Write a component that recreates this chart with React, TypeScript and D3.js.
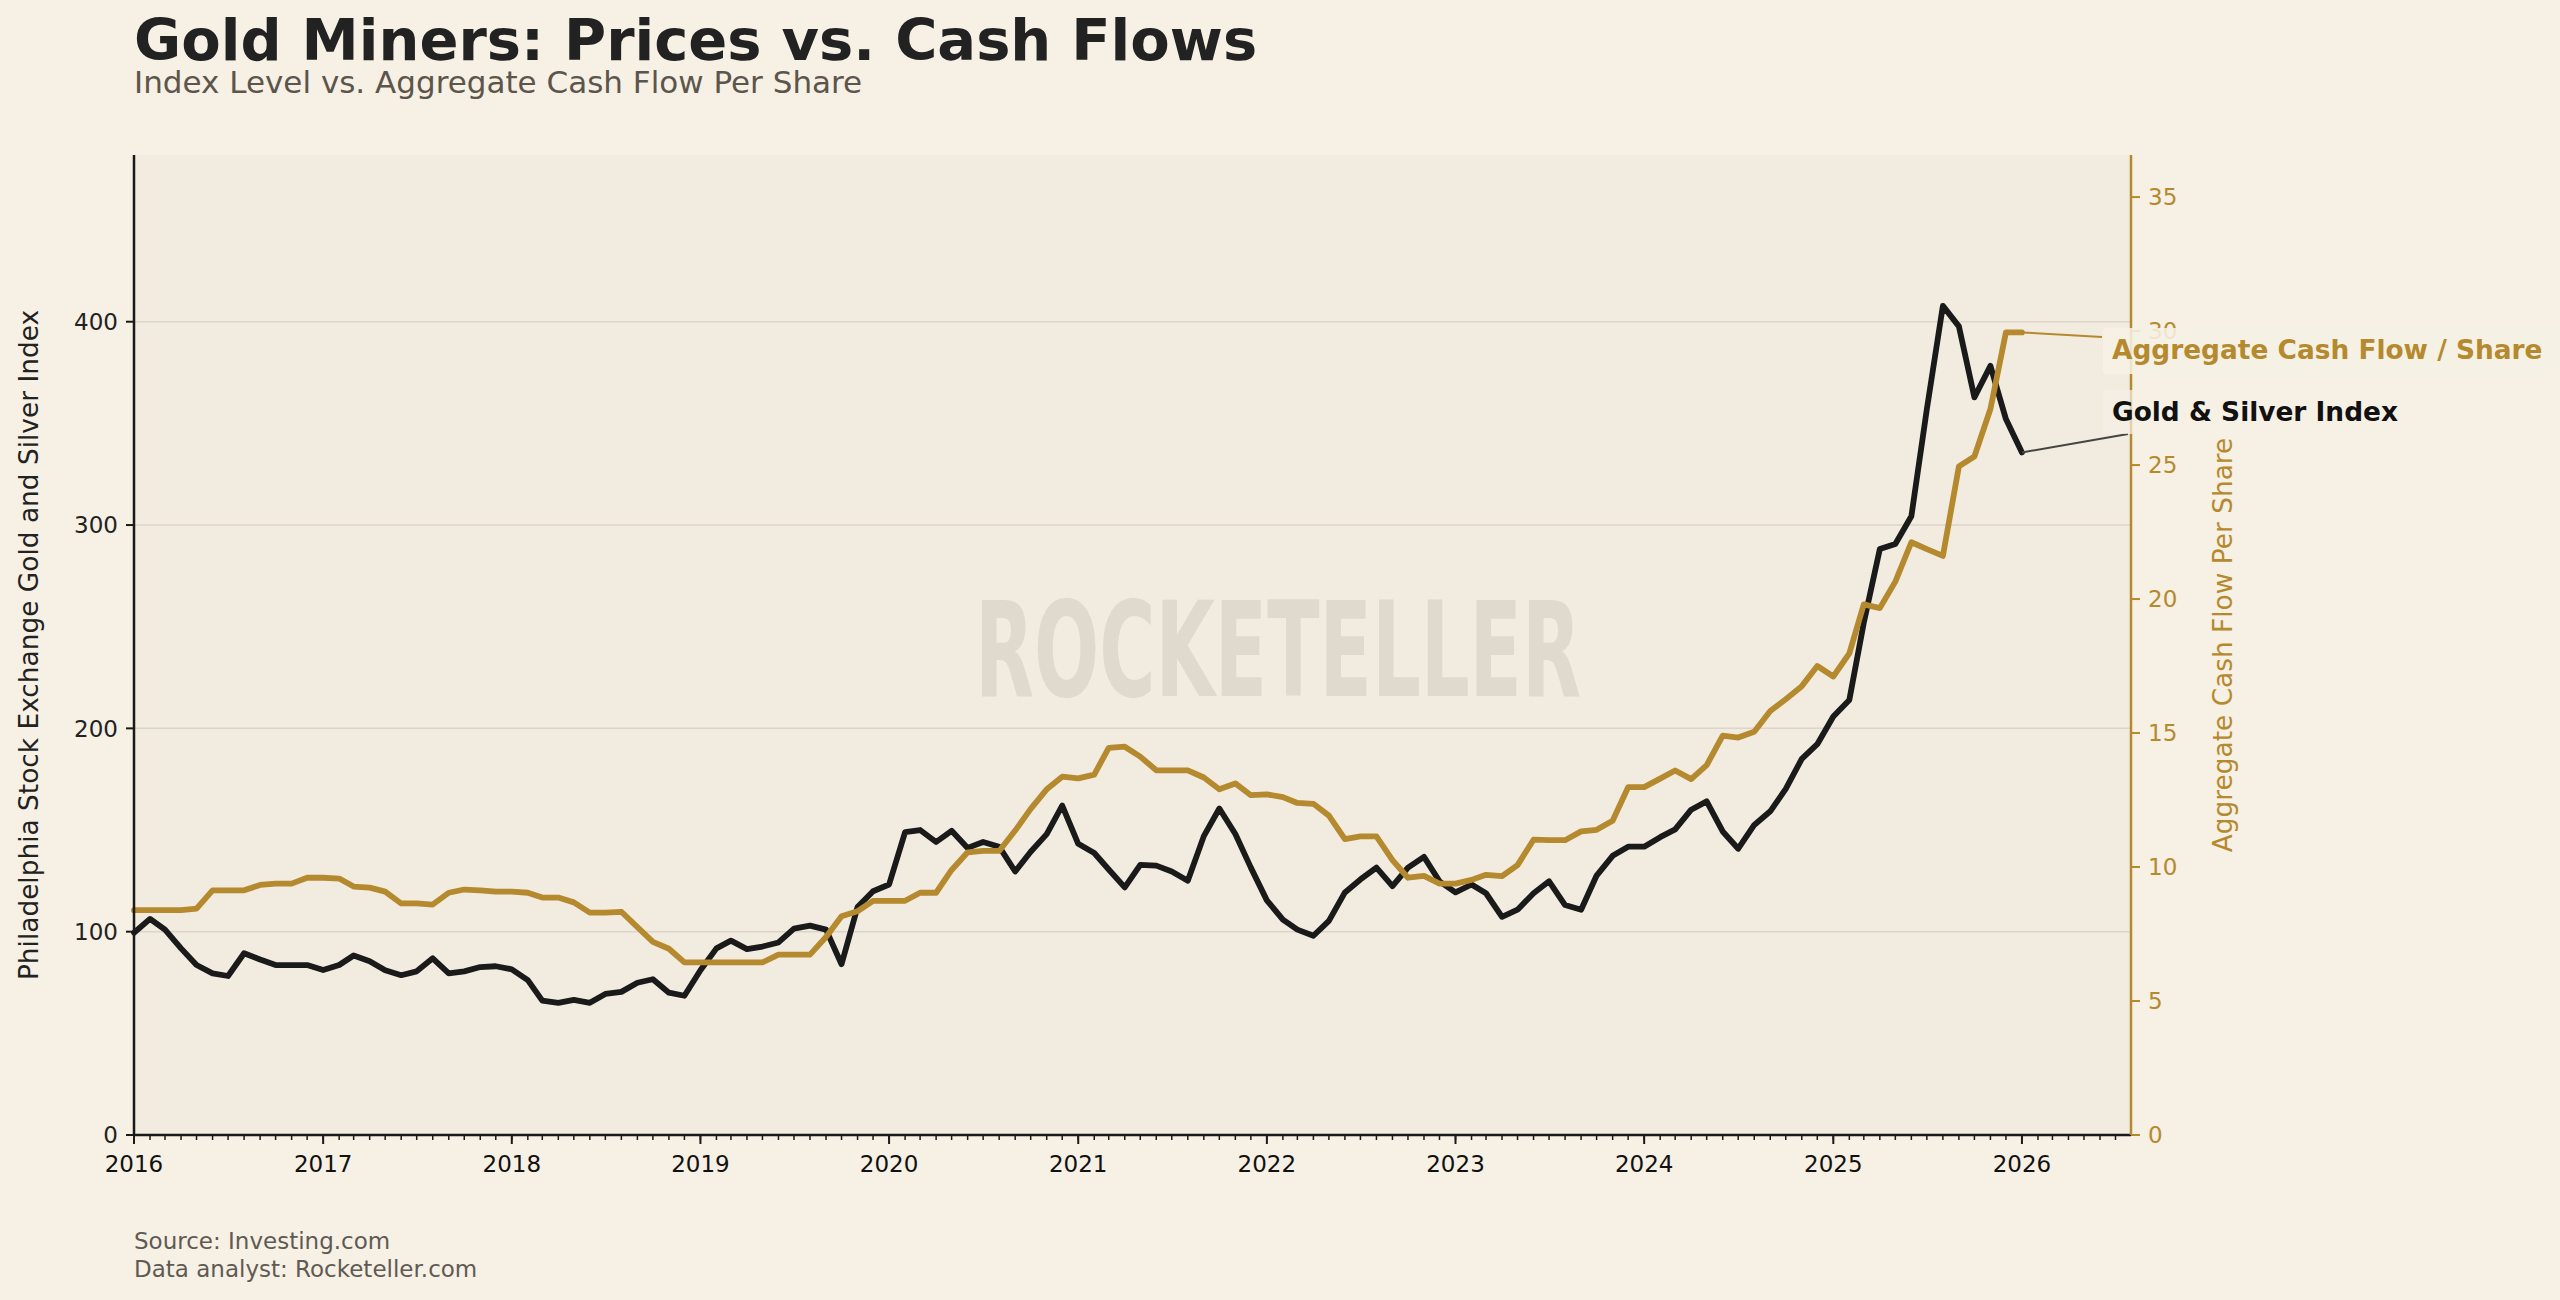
import React from 'react';
import * as d3 from 'd3';

// ---- Data (monthly, Jan 2016 .. Jan 2026) ----
const startYear = 2016;
const indexValues: number[] = [
  99.5, 106.3, 101, 91.8, 83.6, 79.5, 78.2, 89.4, 86.3, 83.6, 83.6, 83.6,
  81.1, 83.6, 88.3, 85.5, 81, 78.6, 80.5, 86.9, 79.5, 80.5, 82.6, 83,
  81.5, 76.2, 66.1, 65, 66.5, 65, 69.4, 70.4, 74.9, 76.6, 70, 68.5,
  81, 91.8, 95.6, 91.4, 92.7, 94.7, 101.5, 103, 101, 84, 112.1, 119.9,
  123.2, 149, 150, 144.1, 149.6, 141.2, 144.1, 141.8, 129.6, 139.3, 148, 162,
  143.2, 138.7, 130.6, 121.8, 132.9, 132.5, 129.6, 125.1, 147, 160.6, 148, 131.5,
  115.4, 105.9, 101, 98, 105.3, 119.3, 125.7, 131.5, 122.4, 131.5, 136.8, 124.8,
  119.3, 123.2, 118.9, 107.3, 110.8, 118.9, 124.8, 113.1, 110.8, 127.6, 137.3, 141.8,
  141.8, 146.5, 150.3, 160, 164.1, 149.3, 140.8, 152.5, 159.2, 170.2, 185, 192.2,
  205.8, 214, 252, 288.2, 290.7, 304.3, 357, 407.8, 397.7, 362.8, 378.3, 352.1,
  335.7,
];
const cashFlowValues: number[] = [
  8.39, 8.39, 8.39, 8.39, 8.45, 9.13, 9.13, 9.13, 9.33, 9.38, 9.38, 9.6,
  9.6, 9.57, 9.27, 9.23, 9.08, 8.64, 8.64, 8.6, 9.04, 9.16, 9.13, 9.08,
  9.08, 9.04, 8.86, 8.86, 8.68, 8.3, 8.3, 8.33, 7.76, 7.21, 6.95, 6.44,
  6.44, 6.44, 6.44, 6.44, 6.44, 6.73, 6.73, 6.73, 7.39, 8.16, 8.35, 8.74,
  8.74, 8.74, 9.04, 9.04, 9.89, 10.55, 10.6, 10.6, 11.36, 12.17, 12.9, 13.37,
  13.31, 13.45, 14.45, 14.49, 14.12, 13.61, 13.61, 13.61, 13.34, 12.9, 13.12, 12.68,
  12.71, 12.61, 12.39, 12.36, 11.92, 11.04, 11.14, 11.14, 10.26, 9.6, 9.67, 9.38,
  9.38, 9.52, 9.71, 9.66, 10.07, 11.02, 11.0, 11.0, 11.33, 11.39, 11.73, 12.98,
  12.98, 13.3, 13.6, 13.28, 13.8, 14.9, 14.83, 15.05, 15.82, 16.26, 16.75, 17.5,
  17.11, 17.97, 19.8, 19.66, 20.65, 22.12, 21.86, 21.61, 24.95, 25.32, 27.09, 29.95,
  29.95,
];
const yearTicks: number[] = [2016, 2017, 2018, 2019, 2020, 2021, 2022, 2023, 2024, 2025, 2026];
const leftTicks: number[] = [0, 100, 200, 300, 400];
const rightTicks: number[] = [0, 5, 10, 15, 20, 25, 30, 35];

const title = 'Gold Miners: Prices vs. Cash Flows';
const subtitle = 'Index Level vs. Aggregate Cash Flow Per Share';
const leftLabel = 'Philadelphia Stock Exchange Gold and Silver Index';
const rightLabel = 'Aggregate Cash Flow Per Share';
const cashLabel = 'Aggregate Cash Flow / Share';
const indexLabel = 'Gold & Silver Index';
const sourceLines = ['Source: Investing.com', 'Data analyst: Rocketeller.com'];
const watermark = 'ROCKETELLER';

// ---- Style ----
const W = 2560;
const H = 1300;
const PL = 134, PR = 2131, PT = 155, PB = 1135;
const PAGE = '#f6f0e5';
const PLOT = '#f1ebe0';
const GOLD = '#b5892e';
const BLACK = '#1a1a1a';
const FONT = '"DejaVu Sans", Verdana, sans-serif';

export default function App() {
  const dates = indexValues.map((_, i) => new Date(startYear, i, 1));
  const x = d3.scaleTime()
    .domain([new Date(2016, 0, 1), new Date(2026, 6, 31)])
    .range([PL, PR]);
  const yL = d3.scaleLinear().domain([0, 482]).range([PB, PT]);
  const yR = d3.scaleLinear().domain([0, 36.57]).range([PB, PT]);

  const lineL = d3.line<number>().x((_, i) => x(dates[i])).y((d) => yL(d));
  const lineR = d3.line<number>().x((_, i) => x(dates[i])).y((d) => yR(d));

  const months = d3.timeMonth.range(new Date(2016, 0, 1), new Date(2026, 7, 1));
  const lastI = indexValues.length - 1;
  const lastX = x(dates[lastI]);
  const lastIdxY = yL(indexValues[lastI]);
  const lastCashY = yR(cashFlowValues[lastI]);

  return (
    <svg width={W} height={H} viewBox={`0 0 ${W} ${H}`}
      style={{ position: 'absolute', left: 0, top: 0, display: 'block' }}
      fontFamily={FONT}>
      <rect x={0} y={0} width={W} height={H} fill={PAGE} />

      {/* Title */}
      <text x={134} y={60} fontSize={57.5} fontWeight="bold" fill="#222">{title}</text>
      <text x={134} y={93} fontSize={31} fill="#5c554b">{subtitle}</text>

      {/* Plot background */}
      <rect x={PL} y={PT} width={PR - PL} height={PB - PT} fill={PLOT} />

      {/* Grid */}
      {leftTicks.filter((t) => t > 0).map((t) => (
        <line key={'g' + t} x1={PL} x2={PR} y1={yL(t)} y2={yL(t)} stroke="#ddd5c8" strokeWidth={1.5} />
      ))}

      {/* Watermark */}
      <text x={1278} y={696} textAnchor="middle" fontSize={132} fontWeight="bold"
        fontFamily='"Liberation Sans Narrow", "DejaVu Sans Condensed", sans-serif'
        fill="#e0d9ce" textLength={606} lengthAdjust="spacingAndGlyphs">{watermark}</text>

      {/* Lines */}
      <path d={lineL(indexValues) || ''} fill="none" stroke={BLACK} strokeWidth={5.8} strokeLinejoin="round" strokeLinecap="round" />
      <path d={lineR(cashFlowValues) || ''} fill="none" stroke={GOLD} strokeWidth={5.8} strokeLinejoin="round" strokeLinecap="round" />

      {/* Spines */}
      <line x1={PL} x2={PL} y1={PT} y2={PB} stroke={BLACK} strokeWidth={2.5} />
      <line x1={PL} x2={PR} y1={PB} y2={PB} stroke={BLACK} strokeWidth={2.5} />
      <line x1={PR} x2={PR} y1={PT} y2={PB} stroke={GOLD} strokeWidth={2.5} />

      {/* Left axis */}
      {leftTicks.map((t) => (
        <g key={'l' + t}>
          <line x1={PL - 8} x2={PL} y1={yL(t)} y2={yL(t)} stroke={BLACK} strokeWidth={2} />
          <text x={PL - 16} y={yL(t)} dy="0.36em" textAnchor="end" fontSize={23} fill="#222">{t}</text>
        </g>
      ))}
      <text transform={`translate(28, ${(PT + PB) / 2}) rotate(-90)`} textAnchor="middle" dy="0.36em"
        fontSize={26.4} fill="#222">{leftLabel}</text>

      {/* Right axis */}
      {rightTicks.map((t) => (
        <g key={'r' + t}>
          <line x1={PR} x2={PR + 9} y1={yR(t)} y2={yR(t)} stroke={GOLD} strokeWidth={2} />
          <text x={PR + 17} y={yR(t)} dy="0.36em" textAnchor="start" fontSize={23} fill={GOLD}>{t}</text>
        </g>
      ))}
      <text transform={`translate(2222, ${(PT + PB) / 2}) rotate(-90)`} textAnchor="middle" dy="0.36em"
        fontSize={26.4} fill={GOLD}>{rightLabel}</text>

      {/* Bottom axis */}
      {months.map((m, i) => (
        <line key={'m' + i} x1={x(m)} x2={x(m)} y1={PB} y2={PB + 5} stroke={BLACK} strokeWidth={1.5} />
      ))}
      {yearTicks.map((yr) => {
        const xx = x(new Date(yr, 0, 1));
        return (
          <g key={'y' + yr}>
            <line x1={xx} x2={xx} y1={PB} y2={PB + 9} stroke={BLACK} strokeWidth={2} />
            <text x={xx} y={1172} textAnchor="middle" fontSize={23} fill="#111">{yr}</text>
          </g>
        );
      })}

      {/* End labels */}
      <line x1={lastX} y1={lastCashY} x2={2102} y2={337} stroke={GOLD} strokeWidth={2} />
      <line x1={lastX} y1={lastIdxY} x2={2128} y2={434} stroke="#444" strokeWidth={2} />
      <rect x={2103} y={328} width={455} height={46} rx={4} fill={PAGE} fillOpacity={0.88} />
      <text x={2112} y={359} fontSize={26.4} fontWeight="bold" fill={GOLD}>{cashLabel}</text>
      <rect x={2103} y={390} width={310} height={44} rx={4} fill={PAGE} fillOpacity={0.7} />
      <text x={2112} y={421} fontSize={26.4} fontWeight="bold" fill="#111">{indexLabel}</text>

      {/* Source */}
      {sourceLines.map((s, i) => (
        <text key={'s' + i} x={134} y={1249 + i * 28} fontSize={23} fill="#5f5a53">{s}</text>
      ))}
    </svg>
  );
}
